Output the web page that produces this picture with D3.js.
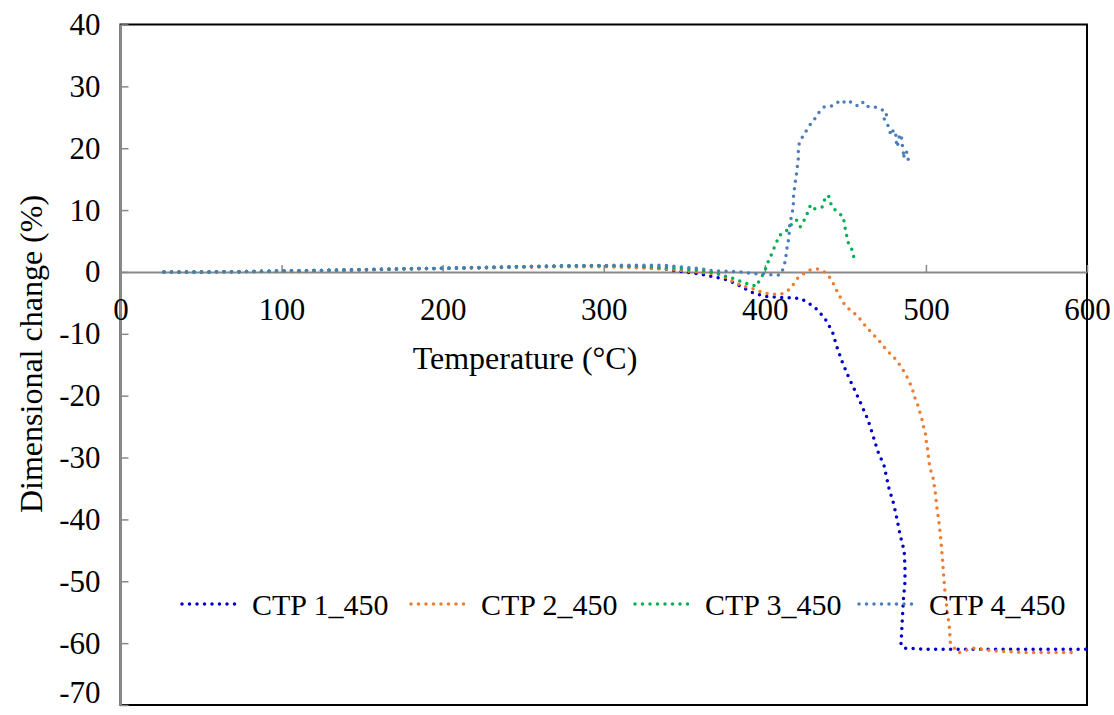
<!DOCTYPE html>
<html>
<head>
<meta charset="utf-8">
<script src="https://cdn.jsdelivr.net/npm/d3@7"></script>
<style>
  html, body { margin: 0; padding: 0; background: #fff; }
  svg { display: block; }
  text { font-family: "Liberation Serif", "Times New Roman", serif; fill: #000; }
</style>
</head>
<body>
<svg id="chart" width="1114" height="715"></svg>
<script>
// ---------- data ----------
const xTicks = [0, 100, 200, 300, 400, 500, 600];
const yTicks = [40, 30, 20, 10, 0, -10, -20, -30, -40, -50, -60, -70];
const seriesNames = ["CTP 1_450", "CTP 2_450", "CTP 3_450", "CTP 4_450"];
const seriesColors = ["#0000CC", "#ED7D31", "#00B050", "#4A7EBB"];

const ctp1Temp = [27, 50, 75, 100, 125, 150, 175, 200, 225, 250, 275, 300, 318, 329, 337, 346, 356, 366, 377, 385, 391, 399, 408, 417, 422, 426, 431, 437, 442, 445, 448, 452, 456, 460, 464, 467, 470, 474, 477, 480, 482, 484, 486.5, 487, 487, 486, 485, 484.5, 486.5, 500, 550, 600];
const ctp1Change = [0, 0, 0.05, 0.15, 0.25, 0.35, 0.5, 0.6, 0.7, 0.85, 0.95, 1.0, 0.8, 0.65, 0.5, 0.15, -0.2, -0.65, -1.3, -2.3, -3.2, -3.9, -4.1, -4.2, -4.3, -4.85, -5.7, -7.4, -9.7, -12.3, -14.5, -17.0, -19.2, -21.5, -23.9, -26.3, -28.9, -31.3, -34.9, -37.5, -39.9, -42.5, -45.1, -47.7, -50.1, -53.0, -57.9, -60.3, -60.8, -61.0, -61.0, -61.0];

const ctp2Temp = [27, 50, 75, 100, 125, 150, 175, 200, 225, 250, 275, 300, 320, 340, 354, 362, 372, 382, 388, 394, 399, 405, 410, 414, 417, 420, 424, 428, 432.6, 437, 440.7, 443, 445, 447.5, 450, 453.7, 457.5, 460.5, 463.7, 466.8, 470.5, 473.6, 476.7, 479.8, 482.9, 485.4, 487.9, 489.8, 491.6, 492.9, 494.7, 496, 497.2, 498.4, 499.7, 500.3, 501, 501.6, 502.2, 503.4, 504.7, 505.3, 506, 506.5, 507, 507.8, 508.4, 509, 510.2, 510.9, 512.1, 513.4, 514.6, 515.2, 520, 529, 544, 560, 594];
const ctp2Change = [0, 0, 0.05, 0.1, 0.2, 0.3, 0.45, 0.55, 0.65, 0.75, 0.85, 0.85, 0.7, 0.45, 0.1, -0.1, -0.4, -1.8, -2.4, -2.8, -3.4, -3.6, -3.6, -3.1, -2.3, -1.1, -0.3, 0.3, 0.5, 0, -1.0, -2.1, -3.2, -4.4, -5.5, -6.3, -7.1, -8.1, -9.1, -10.0, -11.0, -12.0, -12.9, -13.7, -14.7, -15.7, -16.8, -17.8, -18.9, -20.2, -21.3, -22.5, -23.4, -24.9, -26.2, -27.5, -28.6, -29.9, -31.2, -32.5, -33.5, -34.8, -36.0, -37.3, -38.5, -39.8, -41.2, -42.5, -46.2, -48.7, -52.5, -55.1, -57.6, -60.0, -61.6, -60.8, -61.3, -61.5, -61.5];

const ctp3Temp = [27, 50, 75, 100, 125, 150, 175, 200, 225, 250, 275, 300, 320, 340, 358, 366, 370.5, 376.7, 381, 386, 390, 395, 397, 399.6, 401.5, 403.4, 405.3, 407.1, 409, 411.5, 414.6, 417, 419.6, 422, 424.5, 426.4, 428.3, 430.2, 432.6, 435.7, 437, 439.5, 440.7, 442.5, 445, 448.8, 449.4, 450.6, 451.2, 453.7, 455, 456.2];
const ctp3Change = [0, 0, 0.05, 0.15, 0.25, 0.35, 0.5, 0.6, 0.7, 0.85, 0.95, 1.0, 0.95, 0.7, 0.3, 0, -0.2, -0.8, -1.1, -1.6, -2.0, -2.3, -1.1, -0.2, 1.3, 2.4, 3.6, 4.7, 5.9, 6.3, 6.9, 7.9, 8.4, 7.3, 8.4, 9.5, 10.8, 10.2, 10.3, 10.5, 11.6, 12.4, 11.2, 10.3, 9.7, 8.9, 7.6, 6.3, 5.0, 3.9, 2.6, 1.5];

const ctp4Temp = [27, 50, 75, 100, 125, 150, 175, 200, 225, 250, 275, 300, 320, 337, 347.5, 358, 368, 380, 386, 390.4, 395, 400, 405, 409.6, 411.5, 412.7, 413.4, 414, 415.2, 415, 415.8, 417, 417.7, 417.7, 418.3, 418.9, 419.6, 420.2, 420.8, 420.8, 421.4, 424, 426.4, 428.9, 431.4, 433.9, 437, 441.3, 444.4, 447.5, 450, 452.5, 455.6, 458.7, 461.2, 464.3, 468, 471.8, 474.3, 476, 473, 476, 477.3, 478.6, 479.8, 481, 481.7, 481.7, 483, 483.6, 484.8, 485.4, 486, 486, 487.2, 488.5, 489, 489];
const ctp4Change = [0, 0, 0.05, 0.15, 0.25, 0.4, 0.5, 0.6, 0.75, 0.85, 1.0, 1.05, 1.1, 1.1, 0.8, 0.6, 0.2, 0.1, 0, -0.2, -0.3, -0.3, -0.5, -0.5, 0.6, 1.8, 3.1, 4.4, 5.7, 6.8, 8.1, 9.5, 10.7, 12.0, 13.3, 14.5, 15.8, 17.1, 18.4, 19.6, 20.9, 22.1, 23.1, 24.1, 24.9, 25.9, 26.7, 26.8, 27.3, 27.8, 27.3, 27.6, 27.0, 26.8, 27.5, 26.7, 26.7, 26.3, 26.0, 25.5, 25.1, 24.1, 22.8, 22.1, 23.0, 22.6, 21.5, 20.2, 20.9, 22.3, 21.8, 20.4, 19.4, 18.4, 19.6, 19.2, 18.9, 17.8];

const seriesTemps = [ctp1Temp, ctp2Temp, ctp3Temp, ctp4Temp];
const seriesChanges = [ctp1Change, ctp2Change, ctp3Change, ctp4Change];

// ---------- chart ----------
const svg = d3.select("#chart");
const plotLeft = 120.5, plotRight = 1087, plotTop = 24.5, plotBottom = 705;
const x = d3.scaleLinear().domain([0, 600]).range([plotLeft, plotRight]);
const y = d3.scaleLinear().domain([-70, 40]).range([plotBottom, plotTop]);
const axisGrey = "#898989";
const tickFont = 31;
const titleFont = 32;
const legendFont = 30;
const fmt = d => String(d);

// frame
svg.append("rect")
  .attr("x", plotLeft).attr("y", plotTop)
  .attr("width", plotRight - plotLeft).attr("height", plotBottom - plotTop)
  .attr("fill", "none").attr("stroke", "#000").attr("stroke-width", 2);

// y axis
const yAxis = svg.append("g")
  .attr("transform", `translate(${plotLeft},0)`)
  .call(d3.axisLeft(y).tickValues(yTicks).tickSizeInner(-8).tickSizeOuter(0).tickPadding(20).tickFormat(fmt));
yAxis.attr("font-family", null).attr("font-size", null);
yAxis.select(".domain").attr("stroke", axisGrey).attr("stroke-width", 2);
yAxis.selectAll(".tick line").attr("stroke", axisGrey).attr("stroke-width", 1.5);
yAxis.selectAll(".tick text").attr("font-size", tickFont).attr("fill", "#000")
  .attr("dy", d => d === -70 ? "-0.08em" : "0.32em");

// x axis at y = 0
const xAxis = svg.append("g")
  .attr("transform", `translate(0,${y(0)})`)
  .call(d3.axisBottom(x).tickValues(xTicks).tickSizeInner(-7).tickSizeOuter(0).tickPadding(26).tickFormat(fmt));
xAxis.attr("font-family", null).attr("font-size", null);
xAxis.select(".domain").attr("stroke", axisGrey).attr("stroke-width", 2);
xAxis.selectAll(".tick line").attr("stroke", axisGrey).attr("stroke-width", 1.5);
xAxis.selectAll(".tick text").attr("font-size", tickFont).attr("fill", "#000");

// series
const line = d3.line().x(d => x(d[0])).y(d => y(d[1]));
seriesNames.forEach((name, i) => {
  const pts = seriesTemps[i].map((t, k) => [t, seriesChanges[i][k]]);
  svg.append("path")
    .datum(pts)
    .attr("d", line)
    .attr("fill", "none")
    .attr("stroke", seriesColors[i])
    .attr("stroke-width", 3.5)
    .attr("stroke-linecap", "round")
    .attr("stroke-dasharray", "0 7.5");
});

// axis titles
svg.append("text")
  .attr("x", 525).attr("y", 358).attr("dy", "0.35em")
  .attr("text-anchor", "middle").attr("font-size", titleFont)
  .text("Temperature (°C)");
svg.append("text")
  .attr("transform", "translate(31,354) rotate(-90)")
  .attr("dy", "0.35em")
  .attr("text-anchor", "middle").attr("font-size", titleFont)
  .text("Dimensional change (%)");

// legend
const legendTextX = [252, 481, 705, 929];
const legendY = 604;
seriesNames.forEach((name, i) => {
  svg.append("line")
    .attr("x1", legendTextX[i] - 70).attr("x2", legendTextX[i] - 11)
    .attr("y1", legendY).attr("y2", legendY)
    .attr("stroke", seriesColors[i]).attr("stroke-width", 3.5)
    .attr("stroke-linecap", "round").attr("stroke-dasharray", "0 7.5");
  svg.append("text")
    .attr("x", legendTextX[i]).attr("y", legendY).attr("dy", "0.35em")
    .attr("font-size", legendFont)
    .text(name);
});
</script>
</body>
</html>
